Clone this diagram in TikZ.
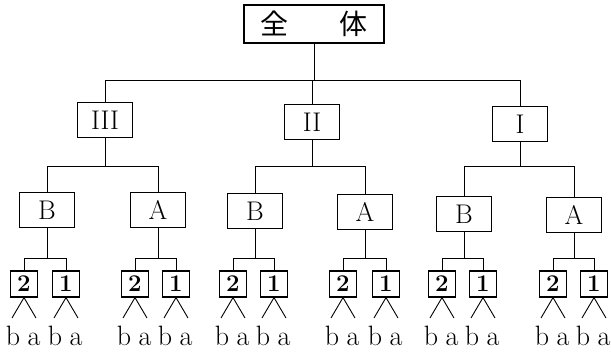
\documentclass[tikz,border=0pt]{standalone}
\usepackage{fontspec}
\newfontfamily\cjk{Noto Sans CJK JP}
\begin{document}
\begin{tikzpicture}[x=1pt,y=-1pt,
  conn/.style={line width=0.9pt},
  rootbox/.style={draw,line width=1.2pt,minimum width=140pt,minimum height=38pt,inner sep=0pt},
  bigbox/.style={draw,line width=1.2pt,minimum width=55pt,minimum height=35pt,inner sep=0pt,
    font=\fontsize{27}{30}\selectfont},
  smallbox/.style={draw,line width=1.2pt,minimum width=27pt,minimum height=26pt,inner sep=0pt,
    font=\fontsize{24}{26}\selectfont\bfseries},
  leaf/.style={inner sep=0pt,anchor=base,font=\fontsize{28}{30}\selectfont}]
\useasboundingbox (0,0) rectangle (611,363);

% bar heights of the three branching levels
\coordinate (bar0) at (0,80);
\coordinate (bar1) at (0,166);
\coordinate (bar2) at (0,258);

% whole
\node[rootbox] (root) at (314,24) {\cjk\fontsize{28}{30}\selectfont 全\hspace{52pt}体};

% first level
\node[bigbox] (III) at (105,120) {III};
\node[bigbox] (II)  at (312,122) {II};
\node[bigbox] (I)   at (520,124) {I};
\draw[conn] (root.south) -- (root.south |- bar0);
\draw[conn] (III.north) -- (III.north |- bar0) -- (I.north |- bar0) -- (I.north);
\draw[conn] (II.north) -- (II.north |- bar0);

% second level
\node[bigbox] (IIIB) at (47,210) {B};
\node[bigbox] (IIIA) at (158,210) {A};
\node[bigbox] (IIB)  at (255,211) {B};
\node[bigbox] (IIA)  at (365,212) {A};
\node[bigbox] (IB)   at (464,214) {B};
\node[bigbox] (IA)   at (574,215) {A};
\foreach \up/\lt/\rt in {III/IIIB/IIIA, II/IIB/IIA, I/IB/IA}{
  \draw[conn] (\up.south) -- (\up.south |- bar1);
  \draw[conn] (\lt.north) -- (\lt.north |- bar1) -- (\rt.north |- bar1) -- (\rt.north);
}

% third level with the leaves b, a
\foreach \p/\twoX/\oneX in {IIIB/24/66, IIIA/135/176, IIB/233/274, IIA/343/386, IB/442/483, IA/553/594}{
  \node[smallbox] (\p-2) at (\twoX,284) {2};
  \node[smallbox] (\p-1) at (\oneX,284) {1};
  \draw[conn] (\p.south) -- (\p.south |- bar2);
  \draw[conn] (\p-2.north) -- (\p-2.north |- bar2) -- (\p-1.north |- bar2) -- (\p-1.north);
  \foreach \q/\x in {2/\twoX, 1/\oneX}{
    \node[leaf] (\p-\q-b) at (\x-11,346) {b};
    \node[leaf] (\p-\q-a) at (\x+10,346) {a};
    \coordinate (\p-\q-bl) at (\x-12,318);
    \coordinate (\p-\q-al) at (\x+12,318);
    \draw[conn] (\p-\q-bl) -- (\p-\q.south) -- (\p-\q-al);
  }
}
\end{tikzpicture}
\end{document}
